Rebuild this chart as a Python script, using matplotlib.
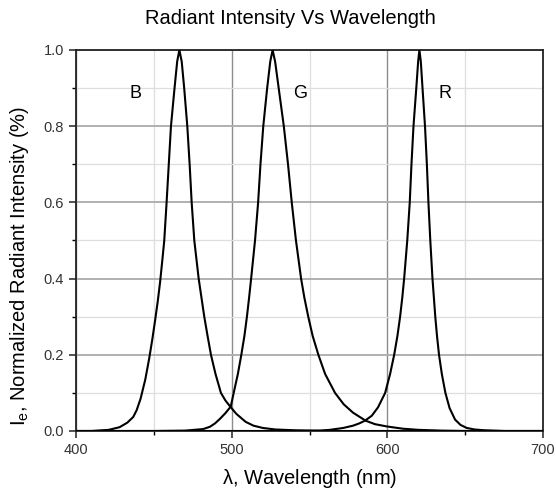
import matplotlib.pyplot as plt
from matplotlib.ticker import MultipleLocator

plt.rcParams['font.family'] = ['Liberation Sans', 'DejaVu Sans']
plt.rcParams['mathtext.fontset'] = 'custom'
plt.rcParams['mathtext.rm'] = 'Liberation Sans'
plt.rcParams['mathtext.it'] = 'Liberation Sans'

# spectra (wavelength nm, normalized intensity)
blue_nm = [400, 410, 421, 428, 433, 436.8, 439, 441.5, 444.5, 447, 449,
           450.8, 452.5, 454, 455.5, 456.7, 458.2, 459.6, 461, 463.3, 465,
           466.4, 467.9, 469.5, 471.5, 473, 474.3, 476.0, 478.8, 482.4,
           484.5, 486.7, 489.6, 493.1, 496, 499.1, 503, 509, 514, 520, 528,
           540, 560, 600, 700]
blue_i = [0.0, 0.0, 0.003, 0.01, 0.022, 0.037, 0.055, 0.085, 0.135, 0.19,
          0.24, 0.29, 0.34, 0.39, 0.45, 0.5, 0.6, 0.7, 0.8, 0.9, 0.97,
          1.0, 0.97, 0.9, 0.8, 0.7, 0.6, 0.5, 0.4, 0.3,
          0.25, 0.2, 0.15, 0.1, 0.08, 0.064, 0.045, 0.024, 0.014, 0.008,
          0.004, 0.002, 0.0, 0.0, 0.0]

green_nm = [400, 450, 470, 481.6, 486, 489.3, 492.5, 496, 499.4, 501.3, 504,
            506.2, 508.2, 509.8, 511.2, 512.5, 515, 517, 518.5, 520.3, 522.8,
            524.8, 526.3, 527.9, 530.2, 533.5, 536.2, 538.6, 541.3, 544.6,
            546.7, 549.2, 552, 555.7, 560, 566.4, 572, 578, 586.1, 592,
            599.6, 610, 620, 635, 650, 700]
green_i = [0.0, 0.0, 0.001, 0.005, 0.011, 0.02, 0.032, 0.047, 0.064, 0.1, 0.15,
           0.2, 0.25, 0.3, 0.35, 0.4, 0.5, 0.6, 0.7, 0.8, 0.9,
           0.97, 1.0, 0.97, 0.9, 0.8, 0.7, 0.6, 0.5, 0.4,
           0.35, 0.3, 0.25, 0.2, 0.15, 0.1, 0.07, 0.048, 0.027, 0.018,
           0.012, 0.006, 0.003, 0.001, 0.0, 0.0]

red_nm = [400, 540, 556, 563, 571.7, 578, 582, 585.6, 590, 594, 598.6, 601.8,
          604.4, 606.5, 608.2, 609.6, 610.8, 612.8, 614.4, 615.5, 616.8,
          618.6, 619.8, 620.6, 621.5, 622.6, 624.2, 625.4, 626.4, 627.6,
          629, 630.8, 631.9, 633.2, 635, 637.3, 640, 643.5, 647, 651, 656,
          662, 675, 700]
red_i = [0.0, 0.0, 0.001, 0.003, 0.008, 0.014, 0.02, 0.027, 0.04, 0.062, 0.1,
         0.15, 0.2, 0.25, 0.3, 0.35, 0.4, 0.5, 0.6, 0.7, 0.8,
         0.9, 0.97, 1.0, 0.97, 0.9, 0.8, 0.7, 0.6, 0.5,
         0.4, 0.3, 0.25, 0.2, 0.15, 0.1, 0.06, 0.03, 0.016, 0.008, 0.004,
         0.002, 0.0, 0.0]

peak_labels = ['B', 'G', 'R']
label_x = [438, 544, 637]
label_y = [0.885, 0.885, 0.885]

fig = plt.figure(figsize=(5.56, 4.93), dpi=100)
ax = fig.add_axes([76 / 556, 1 - 431 / 493, 467 / 556, 381 / 493])

ax.plot(blue_nm, blue_i, color='black', lw=1.5, zorder=3)
ax.plot(green_nm, green_i, color='black', lw=1.5, zorder=3)
ax.plot(red_nm, red_i, color='black', lw=1.5, zorder=3)

for t, x, y in zip(peak_labels, label_x, label_y):
    ax.text(x, y, t, fontsize=13, ha='center', va='center')

ax.set_xlim(400, 700)
ax.set_ylim(0, 1.0)
ax.xaxis.set_major_locator(MultipleLocator(100))
ax.xaxis.set_minor_locator(MultipleLocator(50))
ax.yaxis.set_major_locator(MultipleLocator(0.2))
ax.yaxis.set_minor_locator(MultipleLocator(0.1))
ax.yaxis.set_major_formatter(plt.FormatStrFormatter('%.1f'))

ax.yaxis.grid(which='major', color='#b0b0b0', lw=1.4)
ax.xaxis.grid(which='major', color='#8c8c8c', lw=1.0)
ax.grid(which='minor', color='#dedede', lw=0.9)
ax.set_axisbelow(True)

for s in ax.spines.values():
    s.set_linewidth(1.3)
    s.set_color('#222222')
ax.tick_params(which='major', direction='out', length=5, width=1.1,
               labelsize=10.5, colors='#222222', labelcolor='#333333')
ax.tick_params(which='minor', direction='out', length=3, width=1.0)

ax.set_xlabel(r'$\mathregular{\lambda}$, Wavelength (nm)', fontsize=14.5,
              va='center')
ax.xaxis.set_label_coords(0.5, (431 - 479) / 381)
ax.set_ylabel(r'$\mathregular{I_e}$, Normalized Radiant Intensity (%)',
              fontsize=14.5, va='center')
ax.yaxis.set_label_coords((20 - 76) / 467, (431 - 266) / 381)
fig.text(290 / 556, 1 - 18 / 493, 'Radiant Intensity Vs Wavelength',
         fontsize=14.5, ha='center', va='center')

fig.savefig('out.png', dpi=100)
